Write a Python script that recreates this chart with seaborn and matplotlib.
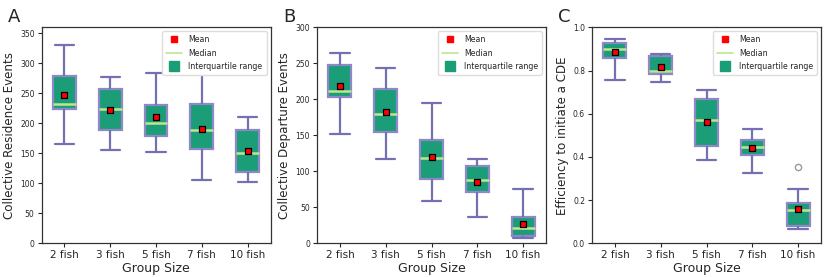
import numpy as np
import pandas as pd
import matplotlib
matplotlib.use("Agg")
import matplotlib.pyplot as plt
from matplotlib.lines import Line2D
import seaborn as sns

groups = ["2 fish", "3 fish", "5 fish", "7 fish", "10 fish"]

# Panel A: Collective Residence Events
a_min = [165, 156, 153, 106, 103]
a_q1 = [224, 189, 179, 158, 119]
a_med = [233, 224, 201, 189, 151]
a_q3 = [279, 258, 231, 232, 189]
a_max = [331, 277, 284, 284, 211]
a_mean = [248, 223, 210, 191, 154]

# Panel B: Collective Departure Events
b_min = [152, 117, 59, 37, 7.5]
b_q1 = [203, 155, 89, 71, 10]
b_med = [212, 180, 119, 88, 21]
b_q3 = [247, 215, 143, 108, 37]
b_max = [265, 243, 195, 117, 75]
b_mean = [218, 183, 120, 85, 27]

# Panel C: Efficiency to initiate a CDE
c_min = [0.757, 0.747, 0.386, 0.327, 0.068]
c_q1 = [0.856, 0.782, 0.452, 0.407, 0.081]
c_med = [0.898, 0.799, 0.569, 0.447, 0.153]
c_q3 = [0.927, 0.866, 0.667, 0.480, 0.188]
c_max = [0.947, 0.878, 0.710, 0.528, 0.253]
c_mean = [0.884, 0.815, 0.561, 0.443, 0.159]
c_out_group = ["10 fish"]
c_out_value = [0.355]

sns.set_theme(style="ticks")
plt.rcParams['font.family'] = ['DejaVu Sans']

FILL = "#1b9e77"
EDGE = "#7570b3"
MED = "#bfe58f"

fig = plt.figure(figsize=(8.3, 2.77), dpi=100)
W, H = 830, 277


def add_ax(left_px):
    return fig.add_axes([left_px / W, (H - 243.3) / H, 229 / W, 216 / H])


def panel(ax, mins, q1s, meds, q3s, maxs, means, ylabel, ylim, yticks, letter,
          out_g=None, out_v=None):
    rows = []
    for g, a, b, c, d, e in zip(groups, mins, q1s, meds, q3s, maxs):
        for v in (a, b, c, d, e):
            rows.append({"group": g, "value": v})
    df = pd.DataFrame(rows)
    sns.boxplot(data=df, x="group", y="value", order=groups, ax=ax, whis=(0, 100),
                width=0.5, color=FILL, linewidth=1.6, showfliers=False,
                boxprops=dict(facecolor=FILL, edgecolor="#8d88c8"),
                whiskerprops=dict(color=EDGE, linewidth=1.6),
                capprops=dict(color=EDGE, linewidth=1.6),
                medianprops=dict(color=MED, linewidth=1.8),
                capwidths=0.42)
    if out_g is not None:
        sns.stripplot(x=out_g, y=out_v, order=groups, ax=ax, jitter=False,
                      marker="o", color="white", edgecolor="#999999",
                      linewidth=1.0, size=4.5, zorder=5)
    sns.stripplot(x=groups, y=means, order=groups, ax=ax, jitter=False,
                  marker="s", color="red", edgecolor="black", linewidth=0.9,
                  size=4.3, zorder=6)
    ax.set_xlim(-0.5, 4.5)
    ax.set_ylim(*ylim)
    ax.set_yticks(yticks)
    ax.set_xlabel("Group Size", fontsize=9, labelpad=1)
    ax.set_ylabel(ylabel, fontsize=8.6, labelpad=3)
    ax.tick_params(axis="x", labelsize=7.5, length=3, width=0.8, pad=2)
    ax.tick_params(axis="y", labelsize=5.5, length=3, width=0.8, pad=2)
    for s in ax.spines.values():
        s.set_color("#333333")
        s.set_linewidth(0.9)
    handles = [
        Line2D([], [], marker="s", color="none", markerfacecolor="red",
               markeredgecolor="red", markersize=4, label="Mean"),
        Line2D([], [], color=MED, linewidth=1.2, label="Median"),
        Line2D([], [], marker="s", color="none", markerfacecolor=FILL,
               markeredgecolor=FILL, markersize=7, label="Interquartile range"),
    ]
    ax.legend(handles=handles, loc="upper right", fontsize=5.7, frameon=True,
              borderpad=0.5, labelspacing=0.55, handlelength=2.0,
              framealpha=1.0, edgecolor="#dddddd", fancybox=True)
    pos = ax.get_position()
    fig.text(pos.x0 - 34 / W, 1 - 8 / H, letter, fontsize=13, va="top", ha="left")


axA = add_ax(41.5)
axB = add_ax(317)
axC = add_ax(592)

panel(axA, a_min, a_q1, a_med, a_q3, a_max, a_mean, "Collective Residence Events",
      (0, 360), np.arange(0, 351, 50), "A")
panel(axB, b_min, b_q1, b_med, b_q3, b_max, b_mean, "Collective Departure Events",
      (0, 300), np.arange(0, 301, 50), "B")
panel(axC, c_min, c_q1, c_med, c_q3, c_max, c_mean, "Efficiency to initiate a CDE",
      (0, 1.0), [0.0, 0.2, 0.4, 0.6, 0.8, 1.0], "C", c_out_group, c_out_value)

fig.savefig("out.png", dpi=100)
